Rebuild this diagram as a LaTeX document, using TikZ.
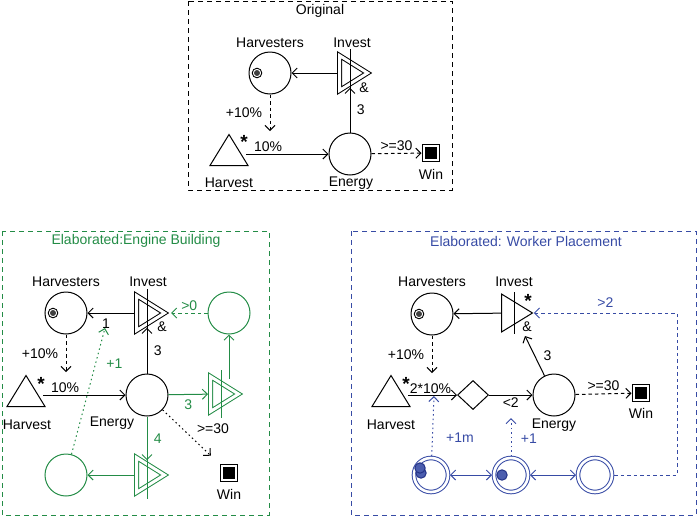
\documentclass[tikz,border=0pt]{standalone}
\usepackage{fontspec}
\setmainfont{Liberation Sans}
\usetikzlibrary{calc,arrows.meta,positioning,shapes.geometric}
\definecolor{engine}{RGB}{35,140,70}
\definecolor{worker}{RGB}{55,75,165}
\definecolor{token}{RGB}{35,50,135}
\tikzset{
  pool/.style={circle, draw, minimum size=42pt, inner sep=0pt},
  slot/.style={circle, draw, double, double distance=2.6pt, minimum size=34pt, inner sep=0pt, outer sep=2pt},
  source/.style={isosceles triangle, isosceles triangle stretches, shape border rotate=90, draw, minimum width=38pt, minimum height=31pt, inner sep=0pt, anchor=south},
  conv/.style={isosceles triangle, isosceles triangle stretches, draw, minimum width=38pt, minimum height=31pt, inner sep=0pt, anchor=west},
  dconv/.style={conv, double, double distance=3pt, minimum width=35pt, minimum height=28pt, outer sep=2.5pt},
  goal/.style={rectangle, draw, double, double distance=2pt, fill=black, minimum size=14pt, inner sep=0pt, outer sep=2.5pt},
  gate/.style={diamond, draw, minimum width=31pt, minimum height=29pt, inner sep=0pt},
  frame/.style={line width=0.8pt, dash pattern=on 5pt off 4pt},
  state/.style={->, dash pattern=on 3.5pt off 3pt},
  trig/.style={->, dash pattern=on 1.5pt off 3pt},
  star/.style={font=\fontsize{19}{19}\selectfont\bfseries}
}
\newcommand{\HarvDot}[1]{\draw[line width=0.9pt, fill=white] ($(#1)+(-13,0)$) circle (4.8pt);
 \fill[black!75] ($(#1)+(-13,0)$) circle (3pt);}
\newcommand{\ConvBar}[2][black]{\draw[#1] ($(#2.west)+(13,-24)$) -- ($(#2.west)+(13,24)$);}
\newcommand{\Token}[1]{\draw[token, fill=worker!90, line width=1pt] (#1) circle (5.2pt);}

\begin{document}
\begin{tikzpicture}[x=1pt, y=-1pt, line width=1pt,
  >={Straight Barb[length=5pt,width=10pt]},
  every node/.append style={font=\fontsize{14}{16}\selectfont}]

    \useasboundingbox (0,0) rectangle (699,517);

    % Original
    \draw[frame] (188,1) rectangle (452,190);
    \node (ttlA) at (320,11) {Original};

    \node[pool] (harvA) at (270,73) {};
    \node[dconv] (invA) at (337,73) {};
    \node[pool] (enA) at (350,154) {};
    \node[source] (hvA) at (229,166) {};
    \node[goal] (winA) at (431,153) {};
    \HarvDot{harvA}
    \ConvBar{invA}

    \node at (270,43) {Harvesters};
    \node at (352,43) {Invest};
    \node at (364,88) {\&};
    \node at (229,183) {Harvest};
    \node at (351,183) {Energy};
    \node at (431,174) {Win};
    \node[star] at (244,142) {*};

    \coordinate (tapA) at (270,131);
	\draw[->] (invA) -- (harvA);
	\draw[->] (enA) -- node[right=3pt] {3} (enA |- invA.south);
	\draw[->, shorten <=4pt] (hvA.east |- enA) -- node[pos=0.3, above=-1pt] {10\%} (enA);
	\draw[state] (harvA) -- node[left=4pt] {+10\%} (tapA);
	\draw[state] (enA) -- node[above=-1pt] {>=30} (winA);

    % Engine building
    \draw[frame, engine] (2,231) rectangle (269,515);
    \node[engine] (ttlB) at (136,241) {Elaborated:Engine Building};

    \node[pool] (harvB) at (66,313) {};
    \node[dconv] (invB) at (134,313) {};
    \node[pool, engine] (poolB) at (229,313) {};
    \node[pool] (enB) at (147,395) {};
    \node[source] (hvB) at (26,407) {};
    \node[dconv, engine] (gateR) at (208,394) {};
    \node[dconv, engine] (gateD) at (134,475) {};
    \node[pool, engine] (poolD) at (66,475) {};
    \node[goal] (winB) at (229,473) {};
    \HarvDot{harvB}
    \ConvBar{invB}
    \ConvBar[engine]{gateR}
    \ConvBar[engine]{gateD}

    \node at (66,282) {Harvesters};
    \node at (148,282) {Invest};
    \node at (162,327) {\&};
    \node at (27,425) {Harvest};
    \node at (112,423) {Energy};
    \node at (229,494) {Win};
    \node at (213,429) {>=30};
    \node[star] at (41,384) {*};

    \coordinate (tapB) at (66,372);
    \coordinate (oneB) at (105,328);
	\draw[->] (invB) -- node[pos=0.6, below=2pt] {1} (harvB);
	\draw[->] (enB) -- node[right=3pt] {3} (enB |- invB.south);
	\draw[->, shorten <=4pt] (hvB.east |- enB) -- node[pos=0.3, above=-1pt] {10\%} (enB);
	\draw[state] (harvB) -- node[left=4pt] {+10\%} (tapB);
	\draw[state, engine] (poolB) -- node[above=-1pt] {>0} (invB);
	\draw[->, engine] (enB) -- node[below=1pt] {3} (gateR);
	\draw[->, engine] (poolB |- gateR.north) -- (poolB);
	\draw[->, engine] (enB) -- node[right=3pt] {4} (enB |- gateD.north);
	\draw[->, engine] (gateD) -- (poolD);
	\draw[trig, engine] (poolD) -- node[pos=0.72, right=7pt] {+1} (oneB);
	\draw[trig, shorten >=12pt] (enB) -- (winB);

    % Worker placement
    \draw[frame, worker] (351,231) rectangle (696,515);
    \node[worker] (ttlC) at (526,241) {Elaborated: Worker Placement};

    \node[pool] (harvC) at (432,314) {};
    \node[conv] (invC) at (501,313) {};
    \node[pool] (enC) at (554,395) {};
    \node[source] (hvC) at (391,407) {};
    \node[gate] (gateC) at (473,395) {};
    \node[goal] (winC) at (641,393) {};
    \node[slot, worker] (slotA) at (431,475) {};
    \node[slot, worker] (slotB) at (511,475) {};
    \node[slot, worker] (slotC) at (595,475) {};
    \HarvDot{harvC}
    \draw ($(invC.west)+(13,-21)$) -- ($(invC.west)+(13,21)$);
    \Token{421,473}
    \Token{420,468}
    \Token{502,475}

    \node at (432,282) {Harvesters};
    \node at (514,282) {Invest};
    \node[star] at (528,301) {*};
    \node at (527,327) {\&};
    \node at (391,425) {Harvest};
    \node at (554,425) {Energy};
    \node at (641,413) {Win};
    \node[star] at (406,384) {*};

    \coordinate (tapC) at (432,373);
    \coordinate (inC) at (525,336);
    \coordinate (turnC) at (677,475);
    \coordinate (hitA) at (434,396);
    \coordinate (hitB) at (511,418);
	\draw[->] (invC) -- (harvC);
	\draw[->] (enC) -- node[right=5pt] {3} (inC);
	\draw[->, shorten <=4pt] (hvC.east |- gateC) -- node[above=-2pt] {2*10\%} (gateC);
	\draw[->] (gateC) -- node[below=-1pt] {<2} (enC);
	\draw[state] (harvC) -- node[left=4pt] {+10\%} (tapC);
	\draw[state] (enC) -- node[above=-1pt] {>=30} (winC);
	\draw[<->, worker] (slotA) -- (slotB);
	\draw[<->, worker] (slotB) -- (slotC);
	\draw[state, worker] (slotC) -- (turnC) |- node[pos=0.75, above=2pt] {>2} (invC.east);
	\draw[trig, worker] (slotA) -- node[pos=0.3, right=10pt] {+1m} (hitA);
	\draw[trig, worker] (slotB) -- node[pos=0.45, right=6pt] {+1} (hitB);

\end{tikzpicture}
\end{document}
